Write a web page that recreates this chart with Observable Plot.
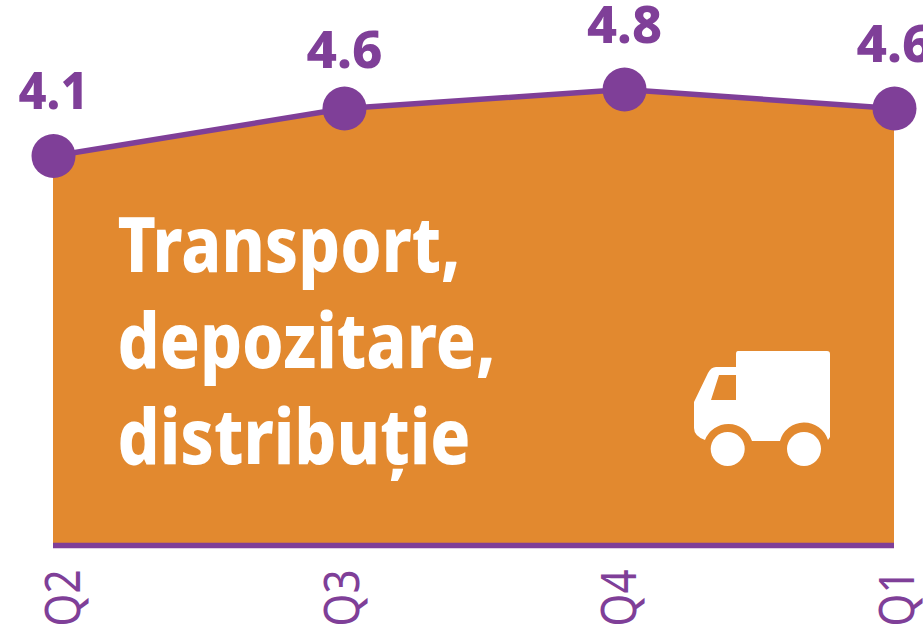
<!DOCTYPE html>
<html><head><meta charset="utf-8">
<style>html,body{margin:0;padding:0;background:#fff;overflow:hidden}svg{display:block}</style>
<script src="https://cdn.jsdelivr.net/npm/d3@7"></script>
<script src="https://cdn.jsdelivr.net/npm/@observablehq/plot@0.6"></script>
</head><body><div id="chart"></div>
<script>
const quarters = ["Q2","Q3","Q4","Q1"];
const quarterPositions = [0, 1.038, 2.037, 3];
const tickPositions = [0.036, 1.031, 2.02, 3.011];
const values = [4.1, 4.6, 4.8, 4.6];
const valueLabels = ["4.1","4.6","4.8","4.6"];
const labelOffsets = [0, -0.065, 0, 0];
const titleLines = ["Transport,","depozitare,","distribuție"];
const titleWidths = [343,378,353];
const labelWidths = [70,76,75,76];
const ORANGE = "#E2892F", PURPLE = "#7F3F98";
const rows = quarters.map((q,i)=>({q, x:quarterPositions[i], v:values[i], label:valueLabels[i], ly:values[i]+labelOffsets[i]}));
const BOLD = "'Noto Sans',sans-serif";

function truck(index, scales, values, dimensions, context){
  const g = d3.select(context.document.createElementNS("http://www.w3.org/2000/svg","g"));
  g.append("path").attr("fill","#fff").attr("fill-rule","evenodd").attr("d",
    "M738 351H827Q830 351 830 354V437L828 440A25 25 0 0 0 780 441H752A25 25 0 0 0 705 440Q694 436 694 428V402L708 373Q711 367 716 367H736V354Q736 351 738 351Z"+
    "M719 375H736V400H711Z");
  g.append("circle").attr("fill","#fff").attr("cx",727.7).attr("cy",449).attr("r",17);
  g.append("circle").attr("fill","#fff").attr("cx",804).attr("cy",449).attr("r",17);
  return g.node();
}
function fitText(widths){
  return (index, scales, values, dimensions, context, next) => {
    const g = next(index, scales, values, dimensions, context);
    d3.select(g).selectAll("text").each(function(d,i){
      this.setAttribute("textLength", widths[index[i]]);
      this.setAttribute("lengthAdjust","spacingAndGlyphs");
    });
    return g;
  };
}

const chart = Plot.plot({
  width: 923, height: 633,
  marginLeft: 53, marginRight: 29, marginTop: 0, marginBottom: 88,
  style: {background:"#fff", overflow:"hidden"},
  x: {domain:[0,3], axis:null},
  y: {domain:[0,545/95], axis:null},
  marks: [
    Plot.areaY(rows,{x:"x",y:"v",fill:ORANGE}),
    Plot.lineY(rows,{x:"x",y:"v",stroke:PURPLE,strokeWidth:5.5}),
    Plot.ruleY([0],{stroke:PURPLE,strokeWidth:5.5}),
    Plot.dot(rows,{x:"x",y:"v",r:22,fill:PURPLE}),
    Plot.text(rows,{x:"x",y:"ly",text:"label",dy:-47,lineAnchor:"bottom",fill:PURPLE,fontSize:52,fontWeight:800,
      fontFamily:BOLD,render:fitText(labelWidths)}),
    ...titleLines.map((line,i)=>Plot.text([line],{frameAnchor:"top-left",dx:64,dy:271+96*i,text:d=>d,textAnchor:"start",lineAnchor:"bottom",
      fill:"#fff",fontSize:77,fontWeight:800,fontFamily:BOLD,render:fitText([titleWidths[i]])})),
    truck,
    Plot.axisX({ticks:tickPositions,tickFormat:d=>quarters[tickPositions.indexOf(d)],
      tickSize:0,tickPadding:24,tickRotate:-90,fontSize:50,fontWeight:400,fontFamily:"'Noto Sans',sans-serif",
      color:PURPLE,label:null,render:(index,scales,values,dimensions,context,next)=>{
        const g = next(index,scales,values,dimensions,context);
        d3.select(g).selectAll("text").attr("textLength",57).attr("lengthAdjust","spacingAndGlyphs");
        return g;
      }})
  ]
});
document.getElementById("chart").append(chart);
</script></body></html>
